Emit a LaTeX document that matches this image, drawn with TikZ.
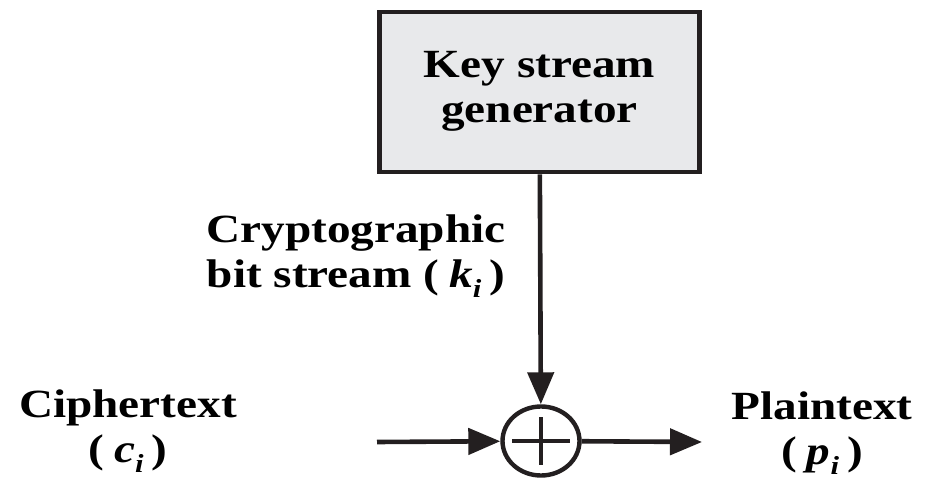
\documentclass[tikz,border=0pt]{standalone}
\usepackage{fontspec}
\setmainfont[FakeStretch=1.18]{Liberation Serif}
\usetikzlibrary{arrows.meta}
\usetikzlibrary{calc}
\usetikzlibrary{shapes.geometric}

\definecolor{ink}{HTML}{231F20}
\definecolor{boxgray}{HTML}{E8E9EB}
\newcommand{\idx}[1]{\raisebox{-0.55ex}{\fontsize{13}{13}\selectfont\textit{#1}}}

\begin{document}
\begin{tikzpicture}[x=0.5pt,y=-0.5pt,
    lbl/.style={font=\fontsize{20}{22.5}\selectfont\bfseries, align=center, inner sep=0pt},
    genbox/.style={draw=ink, fill=boxgray, line width=2.4pt, minimum width=160pt, minimum height=80pt, inner sep=0pt},
    xorop/.style={ellipse, draw=ink, line width=2.2pt, minimum width=38.5pt, minimum height=34.5pt, inner sep=0pt},
    flow/.style={draw=ink, line width=2.3pt, -{Triangle[length=16pt,width=13pt]}}]
            \useasboundingbox (0,0) rectangle (926,480);
            \node[genbox] (gen) at (539.5,92) {};
            \node[lbl] (genlbl) at (539.5,91) {Key stream\\generator};
            \node[xorop] (xor) at (541,441) {};
            \coordinate (cin) at (377,442);
            \coordinate (pout) at (702,442);
            \node[lbl] (ktxt) at (356,256) {Cryptographic\\bit stream (\hspace{0.25em}\textit{k}\idx{i}\hspace{0.2em})};
            \node[lbl] (ctxt) at (128,431) {Ciphertext\\(\hspace{0.25em}\textit{c}\idx{i}\hspace{0.2em})};
            \node[lbl] (ptxt) at (822,433) {Plaintext\\(\hspace{0.25em}\textit{p}\idx{i}\hspace{0.2em})};
            \draw[flow] (gen) to (xor);
            \draw[flow] (cin) to (xor);
            \draw[flow] (xor) to (pout);
            \draw[ink, line width=2.4pt] ($(xor.center)+(-29,0)$) -- ($(xor.center)+(29,0)$);
            \draw[ink, line width=2.4pt] ($(xor.center)+(0,-23.5)$) -- ($(xor.center)+(0,23.5)$);
        \end{tikzpicture}
\end{document}
